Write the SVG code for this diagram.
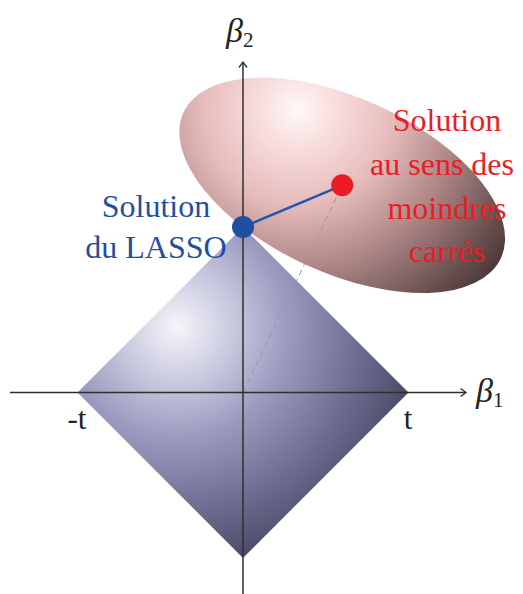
<svg xmlns="http://www.w3.org/2000/svg" width="523" height="594" viewBox="0 0 523 594">
<style>
.axis{stroke:#2f2f2f;stroke-width:1.5;fill:none}
.lbl{font-family:"Liberation Serif","Times New Roman",serif;font-size:32px;text-anchor:middle}
.blue{fill:#1f4fa0}
.red{fill:#ec1c24}
.beta{font-family:"Liberation Serif","DejaVu Serif",serif;font-style:italic;font-size:34px;fill:#222}
.sub{font-style:normal;font-size:21px}
.tick{font-family:"Liberation Serif","Times New Roman",serif;font-size:31px;fill:#222;text-anchor:middle}
</style>
<defs>
<radialGradient id="gDiamond" gradientUnits="userSpaceOnUse" cx="177" cy="327" r="260">
<stop offset="0" stop-color="#f5f5fa"/>
<stop offset="0.18" stop-color="#d0d0e4"/>
<stop offset="0.42" stop-color="#9c9cc0"/>
<stop offset="0.72" stop-color="#6a6a8e"/>
<stop offset="1" stop-color="#3e3e58"/>
</radialGradient>
<radialGradient id="gEllipse" gradientUnits="userSpaceOnUse" cx="270" cy="135" r="270">
<stop offset="0" stop-color="#fff8f8"/>
<stop offset="0.15" stop-color="#f8dcdc"/>
<stop offset="0.35" stop-color="#e6bcbc"/>
<stop offset="0.58" stop-color="#b08888"/>
<stop offset="0.85" stop-color="#634b4b"/>
<stop offset="1" stop-color="#3c2c2c"/>
</radialGradient>
<marker id="arr" markerWidth="12" markerHeight="12" refX="0" refY="0" viewBox="-7 -6 9 12" orient="auto" markerUnits="userSpaceOnUse">
<path d="M -5.5 -4 L 0 0 L -5.5 4" fill="none" stroke="#2f2f2f" stroke-width="1.3"/>
</marker>
</defs>
<g id="diamond">
<polygon points="77.5,392.5 243,227 408.5,392.5 243,558" fill="url(#gDiamond)"/>
</g>
<g id="ellipse">
<ellipse cx="342.2" cy="185.3" rx="174.6" ry="87.4" transform="rotate(24.6 342.2 185.3)" fill="url(#gEllipse)"/>
</g>
<g id="connectors">
<line x1="243" y1="392.5" x2="342.2" y2="185.3" stroke="#9a9a9a" stroke-width="1" stroke-dasharray="6 4"/>
<line class="axis" x1="243" y1="594" x2="243" y2="62" marker-end="url(#arr)"/>
<line class="axis" x1="10" y1="392.5" x2="466" y2="392.5" marker-end="url(#arr)"/>
<line x1="243" y1="227" x2="342.2" y2="185.3" stroke="#2257b0" stroke-width="2.5"/>
</g>
<g id="lasso-point">
<circle cx="243" cy="227" r="11" fill="#1f4fa0"/>
</g>
<g id="ols-point">
<circle cx="342.2" cy="185.3" r="11" fill="#ec1c24"/>
</g>
<g id="lasso-label">
<text class="lbl blue" x="156" y="217">Solution</text>
<text class="lbl blue" x="156" y="258">du LASSO</text>
</g>
<g id="ols-label">
<text class="lbl red" x="447" y="131">Solution</text>
<text class="lbl red" x="442" y="175">au sens des</text>
<text class="lbl red" x="447" y="219">moindres</text>
<text class="lbl red" x="447" y="262">carrés</text>
</g>
<g id="axis-labels">
<text class="beta" x="226" y="42">β<tspan class="sub" dy="5">2</tspan></text>
<text class="beta" x="476" y="402">β<tspan class="sub" dy="5">1</tspan></text>
<text class="tick" x="77" y="429">-t</text>
<text class="tick" x="408" y="429">t</text>
</g>
</svg>
